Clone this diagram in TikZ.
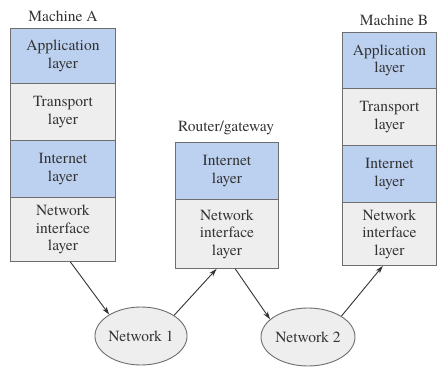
\documentclass[tikz,border=0pt]{standalone}
\usepackage{fontspec}
\setmainfont{texgyretermes-regular.otf}
\usetikzlibrary{shapes.geometric,arrows.meta,calc}
\definecolor{layblue}{HTML}{BCD0F0}
\definecolor{laygray}{HTML}{EEEEEE}
\definecolor{edgegray}{HTML}{6E6E6E}
\definecolor{txt}{HTML}{333333}
\begin{document}
\begin{tikzpicture}[x=1pt,y=-1pt,
  font=\rmfamily\fontsize{15.5}{17.5}\selectfont,
  layer/.style={draw=edgegray, line width=0.9pt, inner sep=0pt, align=center,
    anchor=north west, text=txt},
  blue/.style={layer, fill=layblue},
  gray/.style={layer, fill=laygray},
  title/.style={text=txt, inner sep=0pt},
  net/.style={ellipse, draw=edgegray, line width=0.9pt, fill=laygray, text=txt, inner sep=0pt},
  conn/.style={draw=black!80, line width=0.9pt, -{Stealth[length=8pt,width=5pt]}}]
\useasboundingbox (0,0) rectangle (437,367);

% Machine A
\node[title] (tA) at (63,16) {Machine A};
\node[blue, minimum width=105pt, minimum height=55pt] (A1) at (10,28) {Application\\layer};
\node[gray, minimum width=105pt, minimum height=57pt] (A2) at (10,83) {Transport\\layer};
\node[blue, minimum width=105pt, minimum height=57pt] (A3) at (10,140) {Internet\\layer};
\node[gray, minimum width=105pt, minimum height=64pt] (A4) at (10,197) {Network\\interface\\layer};

% Router
\node[title] (tR) at (226,128) {Router/gateway};
\node[blue, minimum width=103pt, minimum height=57pt] (R1) at (175,142) {Internet\\layer};
\node[gray, minimum width=103pt, minimum height=69pt] (R2) at (175,199) {Network\\interface\\layer};

% Machine B
\node[title] (tB) at (394,20) {Machine B};
\node[blue, minimum width=94pt, minimum height=56pt] (B1) at (342,32) {Application\\layer};
\node[gray, minimum width=94pt, minimum height=57pt] (B2) at (342,88) {Transport\\layer};
\node[blue, minimum width=94pt, minimum height=57pt] (B3) at (342,145) {Internet\\layer};
\node[gray, minimum width=94pt, minimum height=63pt] (B4) at (342,202) {Network\\interface\\layer};

% Networks
\node[net, minimum width=92pt, minimum height=58pt] (N1) at (141,336) {Network 1};
\node[net, minimum width=94pt, minimum height=58pt] (N2) at (308,337) {Network 2};

% connection points
\coordinate (a1) at ($(A4.south west)!0.57!(A4.south east)$);
\coordinate (r1) at ($(R2.south west)!0.40!(R2.south east)$);
\coordinate (r2) at ($(R2.south west)!0.58!(R2.south east)$);
\coordinate (b1) at ($(B4.south west)!0.43!(B4.south east)$);

\draw[conn] (a1) -- (N1.146);
\draw[conn] (N1.32) -- (r1);
\draw[conn] (r2) -- (N2.155);
\draw[conn] (N2.32) -- (b1);
\end{tikzpicture}
\end{document}
